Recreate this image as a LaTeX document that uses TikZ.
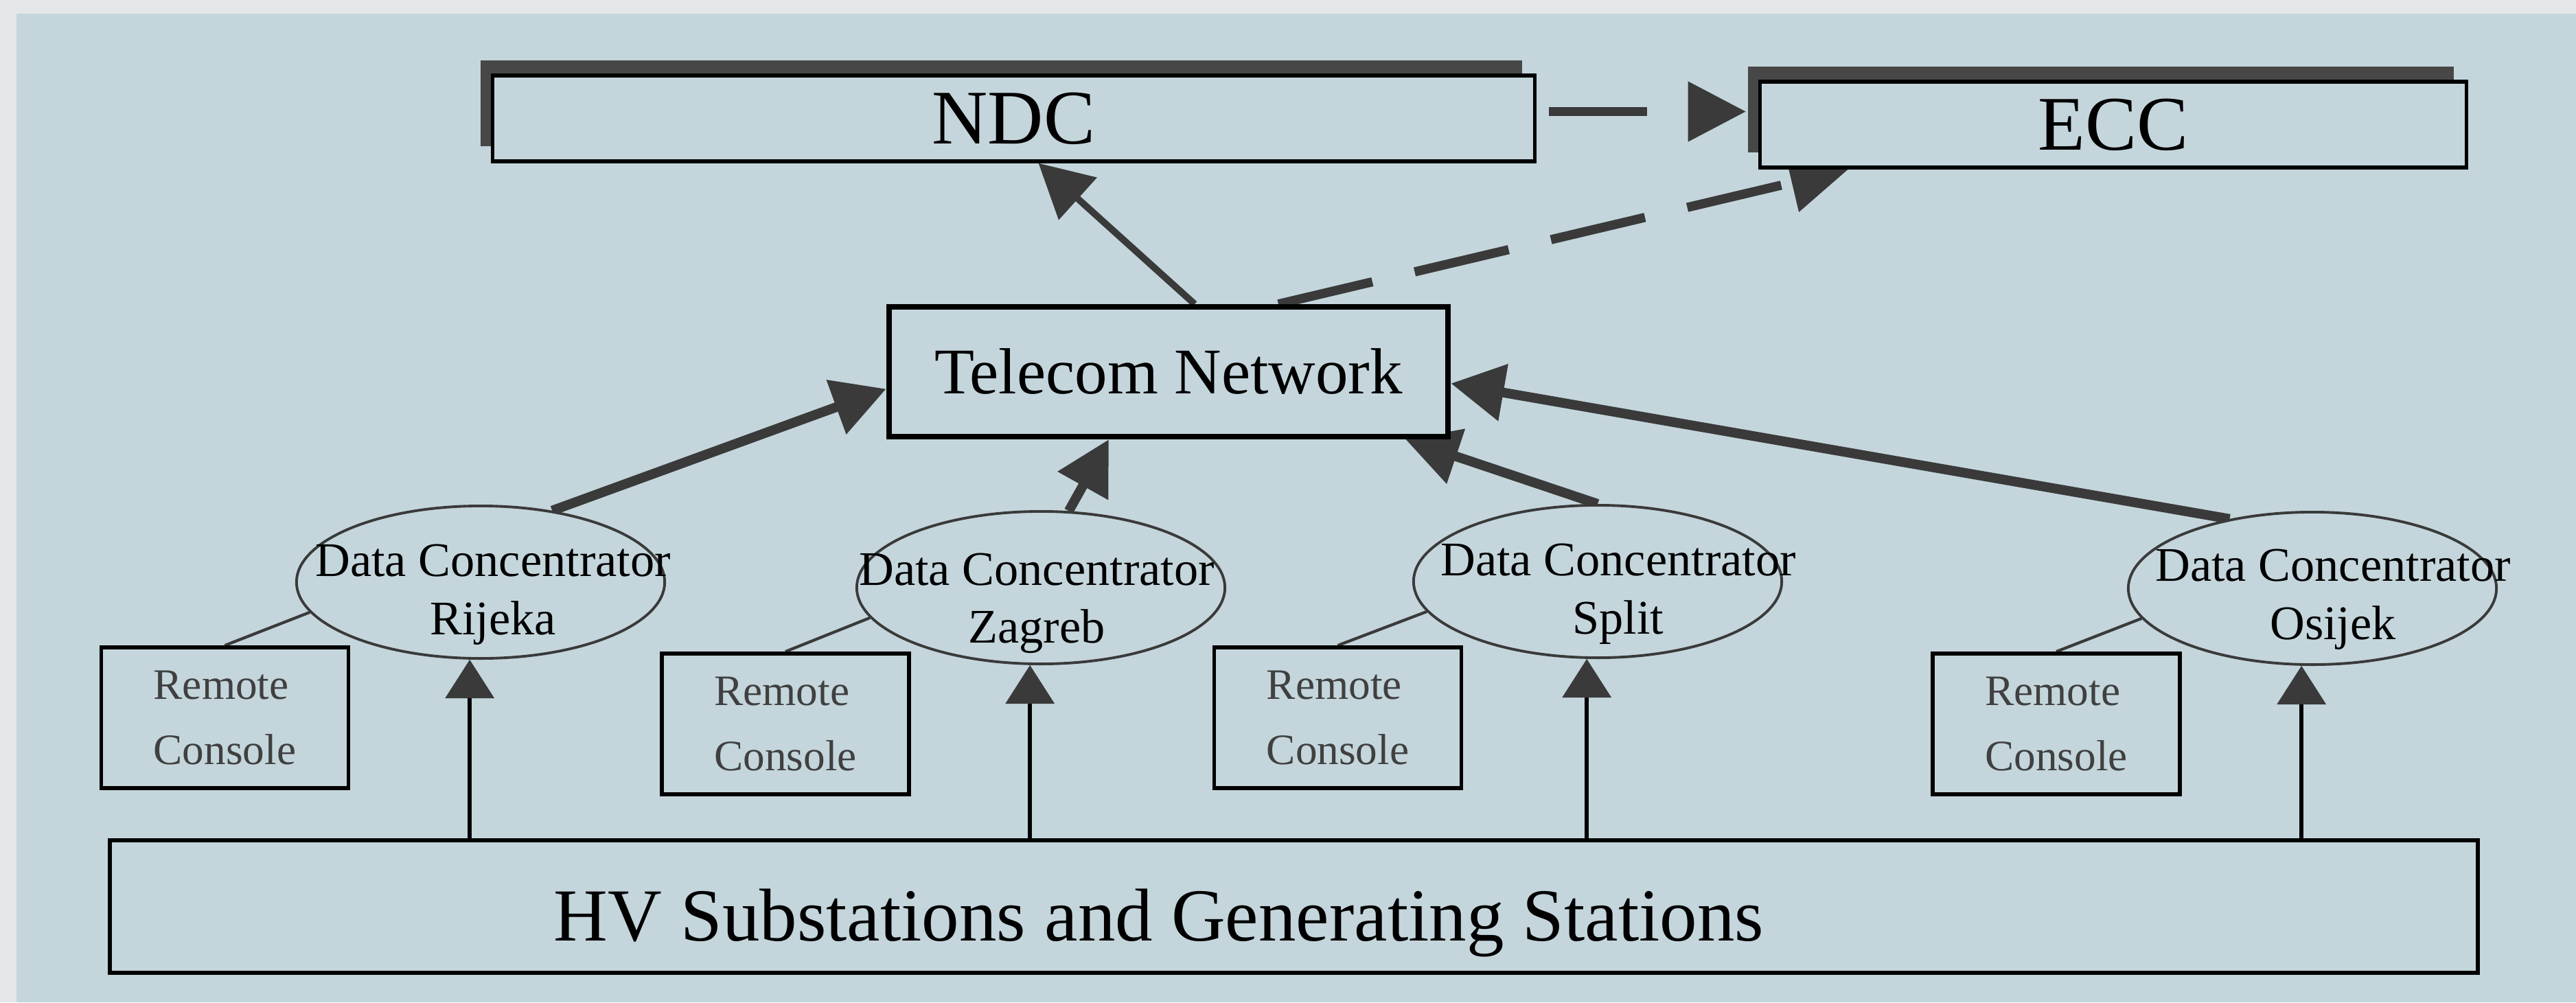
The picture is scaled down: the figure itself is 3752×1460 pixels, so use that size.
\documentclass[tikz,border=0pt]{standalone}
\usepackage{fontspec}
\setmainfont{Liberation Serif}
\usepackage{tikz}
\usetikzlibrary{positioning}
\usetikzlibrary{shapes.geometric,arrows.meta,calc,shadows}
\pgfdeclarelayer{background}
\pgfsetlayers{background,main}

\definecolor{paper}{HTML}{C4D6DC}
\definecolor{margin}{HTML}{E3E7E8}
\definecolor{shade}{HTML}{474747}
\definecolor{ink}{HTML}{3A3A3A}
\definecolor{greytext}{HTML}{404040}

\tikzset{
  controlbox/.style={rectangle, draw=black, line width=1.5pt, fill=paper,
    minimum height=1.25cm, font=\fontsize{32}{38}\selectfont,
    drop shadow={shadow xshift=-1.8mm, shadow yshift=2.2mm, fill=shade, opacity=1}},
  network/.style={rectangle, draw=black, line width=2.3pt, fill=paper,
    minimum width=8.14cm, minimum height=1.89cm, font=\fontsize{27}{32}\selectfont},
  concentrator/.style={ellipse, draw=ink, line width=1.1pt, fill=paper,
    minimum width=5.36cm, minimum height=2.22cm, inner sep=0pt},
  dclabel/.style={align=center, inner sep=0pt, font=\fontsize{20}{24}\selectfont},
  console/.style={rectangle, draw=black, line width=1.6pt, fill=paper,
    minimum width=3.6cm, minimum height=2.05cm, align=left, text=greytext,
    font=\fontsize{18}{27}\selectfont},
  stations/.style={rectangle, draw=black, line width=1.7pt,
    minimum width=34.47cm, minimum height=1.93cm},
  uplink/.style={draw=ink, line width=4pt, -{Triangle[length=22pt,width=23pt]}},
  backup/.style={draw=ink, line width=3.8pt, dash pattern=on 40pt off 18pt,
    -{Triangle[length=24pt,width=24pt]}},
  feed/.style={draw=black, line width=1.8pt, -{Triangle[length=16pt,width=20pt,color=ink]}},
  tie/.style={draw=ink, line width=1.2pt}
}

\begin{document}
\begin{tikzpicture}[x=0.01cm, y=-0.01cm]
	\useasboundingbox (0,0) rectangle (3752,1460);

	%Nodes
	\node[controlbox, minimum width=15.17cm] (ndc) at (1476.5,172.5) {NDC};
	\node[controlbox, minimum width=10.28cm] (ecc) at (3078,181.5) {ECC};
	\node[network] (tn) at (1702,541.5) {Telecom Network};

	\node[concentrator] (rijeka) at (700,848) {};
	\node[concentrator] (zagreb) at (1516,856) {};
	\node[concentrator] (split)  at (2327,847) {};
	\node[concentrator] (osijek) at (3368,857) {};
	\node[dclabel] (rijekatext) at (718,866)  {Data Concentrator\\Rijeka};
	\node[dclabel] (zagrebtext) at (1510,879) {Data Concentrator\\Zagreb};
	\node[dclabel] (splittext)  at (2357,865) {Data Concentrator\\Split};
	\node[dclabel] (osijektext) at (3398,873) {Data Concentrator\\Osijek};

	\node[console] (rc1) at (327.5,1045.5) {Remote\\Console};
	\node[console] (rc2) at (1144,1054.5)  {Remote\\Console};
	\node[console] (rc3) at (1948.5,1045.5) {Remote\\Console};
	\node[console] (rc4) at (2995,1054.5)  {Remote\\Console};

	\node[stations] (hv) at (1884.5,1320.5) {};
	\node[inner sep=0pt, font=\fontsize{31}{37}\selectfont] (hvtext) at (1688,1344)
		{HV Substations and Generating Stations};

	%Lines
	\begin{pgfonlayer}{background}
		\fill[margin] (0,0) rectangle (3752,1460);
		\fill[paper] (24,20) rectangle (3752,1460);

		\draw[uplink] (rijeka.45) -- ($(tn.west)+(0,25)$);
		\draw[uplink] (zagreb.70) -- ($(tn.south)+(-87,0)$);
		\draw[uplink] (split.north) -- ($(tn.south east)+(-66,0)$);
		\draw[uplink] (osijek.140) -- ($(tn.east)+(0,17)$);
		\draw[uplink, line width=2.8pt] ($(tn.north)+(38,0)$) -- ($(ndc.south)+(36,0)$);

		\draw[backup, dash pattern=on 40.7pt off 24pt, dash phase=59.6pt]
			($(ndc.east)+(0,-10)$) -- ($(ecc.west)+(-18,-19)$);
		\draw[backup] ($(tn.north)+(160,0)$) -- ($(ecc.south west)+(131,0)$);

		\foreach \dc/\rc in {rijeka/rc1, zagreb/rc2, split/rc3, osijek/rc4}{
			\draw[tie] (\dc.190) -- (\rc.north);
			\draw[feed] (hv.north -| \dc.262) -- (\dc.262);
		}
	\end{pgfonlayer}
\end{tikzpicture}
\end{document}
